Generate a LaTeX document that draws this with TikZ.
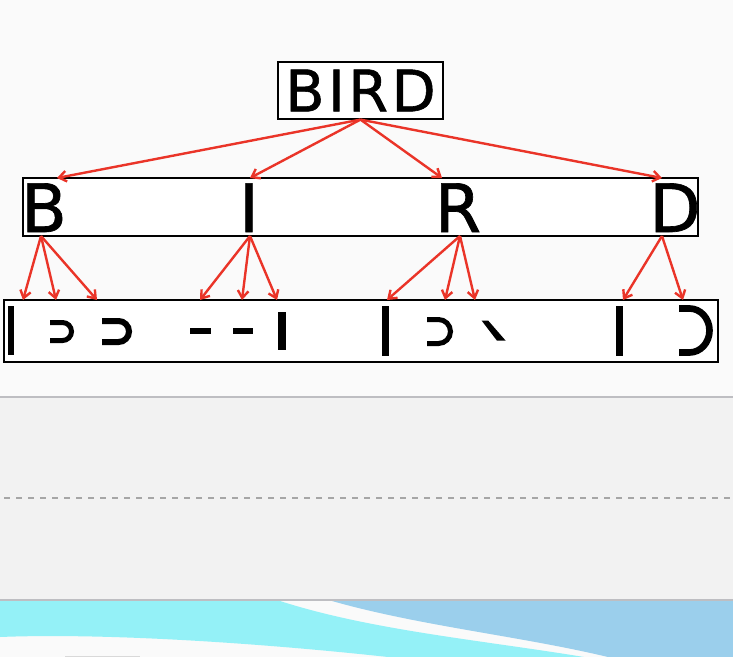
\documentclass[tikz,border=0pt]{standalone}
\usepackage{fontspec}
\setmainfont{DejaVu Sans}
\usepackage{tikz}
\usetikzlibrary{arrows.meta}

\definecolor{linkred}{RGB}{234,52,40}
\definecolor{pagebg}{RGB}{250,250,250}
\definecolor{panelgray}{RGB}{242,242,242}
\definecolor{rulegray}{RGB}{190,190,194}
\definecolor{dashgray}{RGB}{166,166,166}
\definecolor{wavecyan}{RGB}{148,241,247}
\definecolor{waveblue}{RGB}{155,207,236}

\begin{document}
\begin{tikzpicture}[x=0.75pt,y=-0.75pt,
	link/.style={draw=linkred,line width=1.8pt,-{Straight Barb[length=5.5pt,width=8pt]}},
	frame/.style={draw=black,line width=0.9pt,fill=white,inner sep=0pt},
	bigletter/.style={font=\fontsize{50}{60}\selectfont\addfontfeature{FakeBold=1},anchor=base,inner sep=0pt},
	piece/.style={draw=black,line cap=butt}]
	% page and panel
	\fill[pagebg] (0,0) rectangle (733,657);
	\useasboundingbox (0,0) rectangle (733,657);
	\fill[panelgray] (0,397) rectangle (733,600);
	\draw[dashgray,line width=1.5pt,dash pattern=on 4.5pt off 4.5pt] (4,498) -- (733,498);
	\fill[wavecyan] (0,601) -- (280,601) .. controls (370,630) and (480,640) .. (584,657) -- (388,657)
		.. controls (250,642) and (100,633) .. (0,637) -- cycle;
	\fill[waveblue] (332,601) -- (733,601) -- (733,657) -- (608,657) .. controls (520,636) and (420,626) .. (332,601) -- cycle;
	\fill[gray!30] (65,656) rectangle (140,657);
	\draw[rulegray,line width=1.5pt] (0,397) -- (733,397);
	\draw[rulegray,line width=1.5pt] (0,600) -- (733,600);

	% boxes
	\node[frame,minimum width=123.75pt,minimum height=42.75pt,
		font=\fontsize{43}{50}\selectfont\addfontfeature{LetterSpace=6,FakeBold=1}] (bird) at (360.5,90.5) {BIRD};
	\node[frame,minimum width=506.25pt,minimum height=43.5pt] (letters) at (360.5,207) {};
	\node[frame,minimum width=535.5pt,minimum height=46.5pt] (strokes) at (361,331) {};

	\node[bigletter] (B) at (44,232) {B};
	\node[bigletter] (I) at (249,232) {I};
	\node[bigletter] (R) at (458,232) {R};
	\node[bigletter] (D) at (675,232) {D};

	% pieces of B
	\draw[piece,line width=4.5pt] (11,306) -- (11,355);
	\draw[piece,line width=3.75pt] (50,322.5) -- (62.5,322.5) .. controls (67.5,322.5) and (71.5,326.5) .. (71.5,331.5)
		.. controls (71.5,336.5) and (67.5,340.5) .. (62.5,340.5) -- (50,340.5);
	\draw[piece,line width=4.5pt] (102,321) -- (118.5,321) .. controls (124.3,321) and (129,325.7) .. (129,331.5)
		.. controls (129,337.3) and (124.3,342) .. (118.5,342) -- (102,342);
	% pieces of I
	\draw[piece,line width=4.5pt] (190,331) -- (211,331);
	\draw[piece,line width=4.5pt] (233,331) -- (253,331);
	\draw[piece,line width=5.5pt] (282,312) -- (282,350);
	% pieces of R
	\draw[piece,line width=5pt] (385.5,306) -- (385.5,356);
	\draw[piece,line width=3.75pt] (427,319.5) -- (438.5,319.5) .. controls (445.1,319.5) and (450.5,324.9) .. (450.5,331.5)
		.. controls (450.5,338.1) and (445.1,343.5) .. (438.5,343.5) -- (427,343.5);
	\fill (481.7,320.7) -- (488.3,320.7) -- (505.7,340.7) -- (497,340.7) -- cycle;
	% pieces of D
	\draw[piece,line width=5pt] (619.5,306) -- (619.5,356);
	\draw[piece,line width=5pt] (679,308.5) -- (689.5,308.5) .. controls (700.5,308.5) and (709.5,318.35) .. (709.5,330.5)
		.. controls (709.5,342.65) and (700.5,352.5) .. (689.5,352.5) -- (679,352.5);

	% arrow ends
	\coordinate (tB) at (57,178);
	\coordinate (tI) at (250,178);
	\coordinate (tR) at (442,178);
	\coordinate (tD) at (662,178);
	\coordinate (sB) at (41,236);
	\coordinate (sI) at (250,236);
	\coordinate (sR) at (460,236);
	\coordinate (sD) at (662,236);
	\coordinate (b1) at (23,300);
	\coordinate (b2) at (56,300);
	\coordinate (b3) at (97,300);
	\coordinate (i1) at (200,300);
	\coordinate (i2) at (242,300);
	\coordinate (i3) at (277,300);
	\coordinate (r1) at (387,300);
	\coordinate (r2) at (445,300);
	\coordinate (r3) at (475,300);
	\coordinate (d1) at (623,300);
	\coordinate (d2) at (683,300);

	\draw[link] (bird.south) -- (tB);
	\draw[link] (bird.south) -- (tI);
	\draw[link] (bird.south) -- (tR);
	\draw[link] (bird.south) -- (tD);

	\draw[link] (sB) -- (b1);
	\draw[link] (sB) -- (b2);
	\draw[link] (sB) -- (b3);
	\draw[link] (sI) -- (i1);
	\draw[link] (sI) -- (i2);
	\draw[link] (sI) -- (i3);
	\draw[link] (sR) -- (r1);
	\draw[link] (sR) -- (r2);
	\draw[link] (sR) -- (r3);
	\draw[link] (sD) -- (d1);
	\draw[link] (sD) -- (d2);
\end{tikzpicture}
\end{document}
